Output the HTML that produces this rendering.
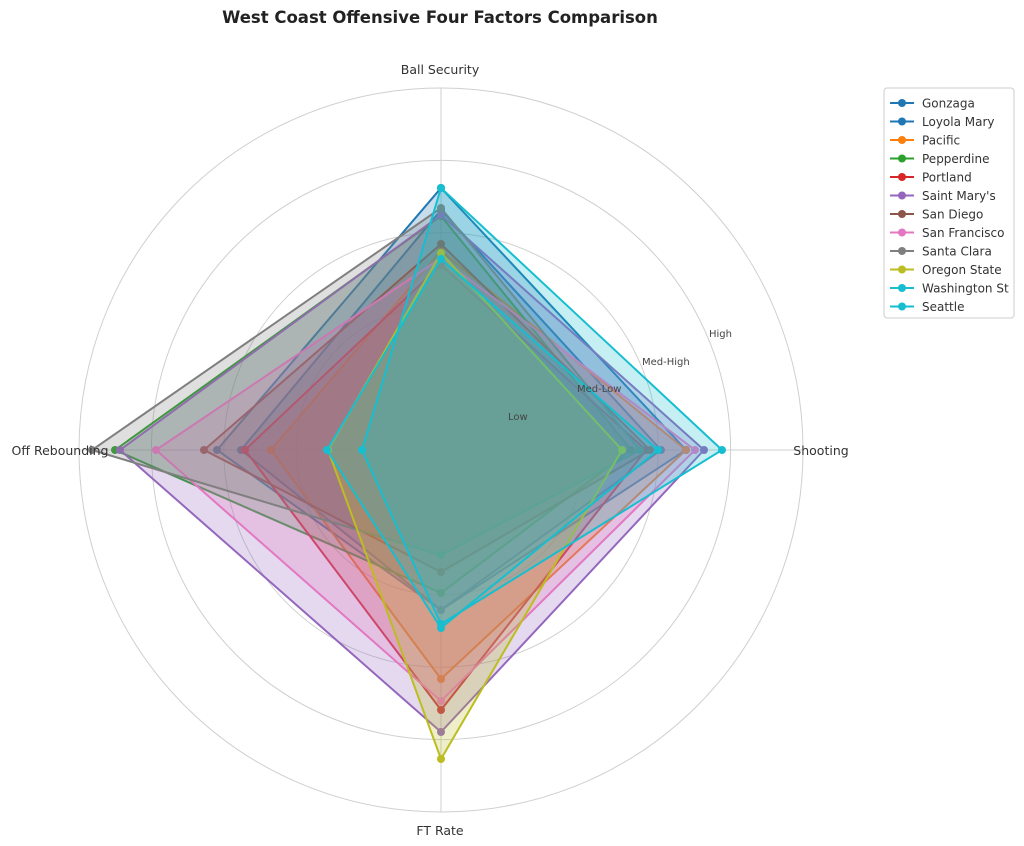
<!DOCTYPE html>
<html><head><meta charset="utf-8"><style>
body{margin:0;background:#fff;}
svg{display:block;font-family:"DejaVu Sans","Liberation Sans",sans-serif;}
</style></head><body>
<svg id="s" width="1024" height="846" xmlns="http://www.w3.org/2000/svg">
<rect width="1024" height="846" fill="#fff"/>
<text x="440" y="23" text-anchor="middle" font-size="16.5" font-weight="bold" fill="#222">West Coast Offensive Four Factors Comparison</text>
<g id="grid" stroke="#cfcfcf" stroke-width="1" fill="none"></g>
<g id="data"></g>
<g font-size="12.5" fill="#333">
<text x="440" y="74" text-anchor="middle">Ball Security</text>
<text x="821" y="455" text-anchor="middle">Shooting</text>
<text x="440" y="835" text-anchor="middle">FT Rate</text>
<text x="60" y="455" text-anchor="middle">Off Rebounding</text>
</g>
<g font-size="10" fill="#444">
<text x="508" y="420">Low</text>
<text x="577" y="392">Med-Low</text>
<text x="642" y="365">Med-High</text>
<text x="709" y="337">High</text>
</g>
<g id="legend"></g>
</svg>
<script>
var cx=441,cy=450,ns="http://www.w3.org/2000/svg";
function el(t,a,p){var e=document.createElementNS(ns,t);for(var k in a)e.setAttribute(k,a[k]);p.appendChild(e);return e;}
var g=document.getElementById('grid');
[72.4,144.8,217.2,289.6,362].forEach(function(r){el('circle',{cx:cx,cy:cy,r:r},g);});
el('line',{x1:cx,y1:cy-362,x2:cx,y2:cy+362},g);
el('line',{x1:cx-362,y1:cy,x2:cx+362,y2:cy},g);
var teams=[
["Gonzaga","#1f77b4",262,245,160,224],
["Loyola Mary","#1f77b4",240,220,160,200],
["Pacific","#ff7f0e",199,245,229,170],
["Pepperdine","#2ca02c",234,190,143,326],
["Portland","#d62728",185,205,260,196],
["Saint Mary's","#9467bd",235,263,282,321],
["San Diego","#8c564b",206,209,122,237],
["San Francisco","#e377c2",192,254,251,285],
["Santa Clara","#7f7f7f",242,199,105,349],
["Oregon State","#bcbd22",197,181,309,113],
["Washington St","#17becf",191,217,178,114],
["Seattle","#17becf",262,281,174,79]];
var d=document.getElementById('data');
teams.forEach(function(t){
 var p=[[cx,cy-t[2]],[cx+t[3],cy],[cx,cy+t[4]],[cx-t[5],cy]];
 var s=p.map(function(q){return q.join(',')}).join(' ');
 el('polygon',{points:s,fill:t[1],'fill-opacity':0.25,stroke:t[1],'stroke-width':2},d);
 p.forEach(function(q){el('circle',{cx:q[0],cy:q[1],r:4,fill:t[1]},d);});
});
var L=document.getElementById('legend');
el('rect',{x:884,y:88,width:130,height:230,fill:'#fff',stroke:'#ccc',rx:3},L);
teams.forEach(function(t,i){
 var y=103+i*18.5;
 el('line',{x1:890,y1:y,x2:914,y2:y,stroke:t[1],'stroke-width':2},L);
 el('circle',{cx:902,cy:y,r:4,fill:t[1]},L);
 var tx=el('text',{x:922,y:y+4.5,'font-size':12,fill:'#333'},L);tx.textContent=t[0];
});
</script>
</body></html>
